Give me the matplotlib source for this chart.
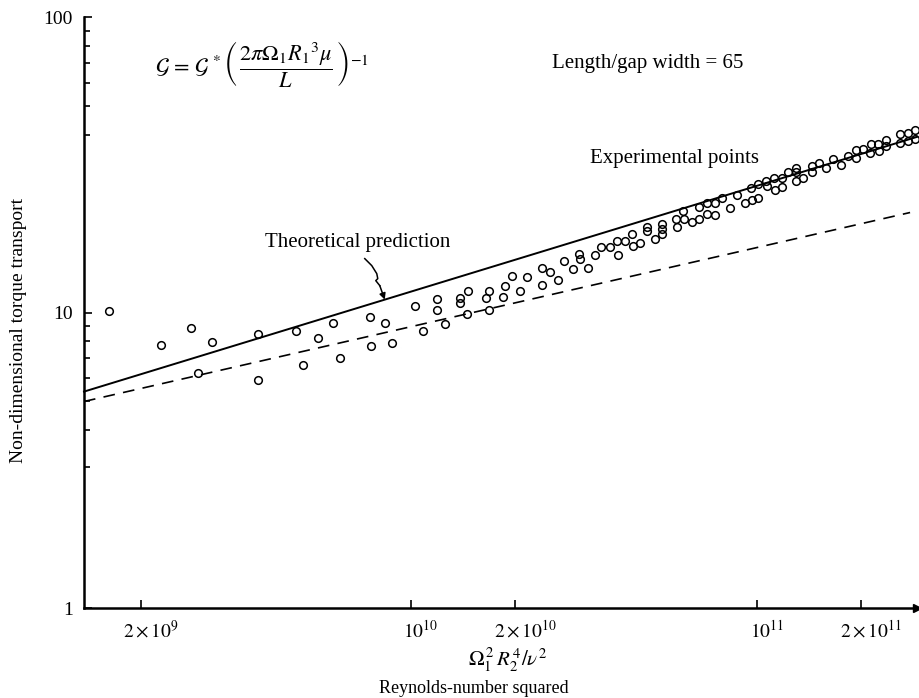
import numpy as np
import matplotlib
matplotlib.use("Agg")
import matplotlib.pyplot as plt
from matplotlib.ticker import FixedLocator, NullLocator, NullFormatter
from matplotlib.transforms import ScaledTranslation

plt.rcParams['font.family'] = ['Liberation Serif', 'DejaVu Serif']
plt.rcParams['mathtext.fontset'] = 'stix'

# experimental points (Reynolds-number squared, non-dimensional torque)
exp_x = [1.34e9, 1.89e9, 2.31e9, 2.66e9, 2.42e9, 3.61e9, 3.61e9, 4.65e9, 4.87e9, 5.39e9,
         5.95e9, 6.23e9, 7.61e9, 7.66e9, 8.41e9, 8.81e9, 1.03e10, 1.08e10, 1.19e10, 1.19e10,
         1.25e10, 1.39e10, 1.39e10, 1.46e10, 1.45e10, 1.65e10, 1.68e10, 1.68e10, 1.85e10, 1.87e10,
         1.96e10, 2.07e10, 2.16e10, 2.39e10, 2.39e10, 2.52e10, 2.66e10, 2.77e10, 2.94e10, 3.06e10,
         3.08e10, 3.25e10, 3.40e10, 3.54e10, 3.76e10, 3.94e10, 3.97e10, 4.15e10, 4.35e10, 4.38e10,
         4.59e10, 4.81e10, 4.81e10, 5.07e10, 5.31e10, 5.31e10, 5.31e10, 5.83e10, 5.87e10, 6.11e10,
         6.15e10, 6.49e10, 6.80e10, 6.80e10, 7.17e10, 7.17e10, 7.56e10, 7.56e10, 7.92e10, 8.36e10,
         8.75e10, 9.23e10, 9.61e10, 9.68e10, 1.01e11, 1.01e11, 1.06e11, 1.07e11, 1.12e11, 1.13e11,
         1.18e11, 1.18e11, 1.23e11, 1.30e11, 1.30e11, 1.30e11, 1.36e11, 1.44e11, 1.44e11, 1.51e11,
         1.58e11, 1.66e11, 1.75e11, 1.83e11, 1.93e11, 1.93e11, 2.02e11, 2.12e11, 2.13e11, 2.24e11,
         2.25e11, 2.36e11, 2.36e11, 2.59e11, 2.59e11, 2.73e11, 2.73e11, 2.86e11, 2.86e11]
exp_y = [10.1, 7.74, 8.83, 7.92, 6.22, 8.43, 5.89, 8.63, 6.67, 8.23,
         9.25, 6.99, 9.69, 7.68, 9.25, 7.86, 10.5, 8.69, 11.1, 10.2,
         9.11, 11.2, 10.8, 11.8, 9.85, 11.2, 11.8, 10.2, 11.3, 12.3,
         13.3, 11.8, 13.2, 14.2, 12.4, 13.7, 12.9, 14.9, 14.0, 15.8,
         15.2, 14.2, 15.7, 16.7, 16.7, 17.5, 15.6, 17.5, 18.5, 16.8,
         17.2, 19.5, 18.9, 17.8, 20.0, 19.2, 18.5, 20.8, 19.5, 22.1,
         20.8, 20.3, 20.8, 22.8, 21.6, 23.4, 23.5, 21.3, 24.5, 22.5,
         25.0, 23.5, 26.4, 24.1, 24.5, 27.3, 27.9, 26.9, 28.6, 26.0,
         26.6, 28.6, 29.9, 30.9, 29.9, 27.9, 28.6, 31.4, 29.9, 32.1,
         30.9, 33.1, 31.6, 33.9, 35.5, 33.4, 35.8, 34.7, 37.2, 37.2,
         35.3, 38.4, 36.7, 40.2, 37.5, 40.6, 38.1, 41.5, 38.7]

# theoretical prediction (solid) and lower dashed curve, read at their ends
theory_x = [1.135e9, 2.90e11]
theory_y = [5.4, 39.3]
dashed_x = [1.135e9, 2.77e11]
dashed_y = [5.0, 21.8]

xtick_vals = [1.66e9, 1e10, 2e10, 1e11, 2e11]
xtick_labels = [r'$2\times10^{9}$', r'$10^{10}$', r'$2\times10^{10}$', r'$10^{11}$', r'$2\times10^{11}$']
ytick_vals = [1, 10, 100]
ytick_labels = ['1', '10', '100']
yminor_vals = [3, 4, 5, 6, 7, 8, 9, 40, 50, 60, 70, 80, 90]

fig = plt.figure(figsize=(9.2, 6.98), dpi=100)
ax = fig.add_axes([0.0913, 0.1289, 0.9054, 0.8467])
ax.set_xscale('log')
ax.set_yscale('log')
ax.set_xlim(1.135e9, 2.90e11)
ax.set_ylim(1, 100)

ax.plot(theory_x, theory_y, color='black', lw=1.4, clip_on=False)
ax.plot(dashed_x, dashed_y, color='black', lw=1.2, linestyle=(0, (7, 5)), clip_on=False)
ax.plot(exp_x, exp_y, linestyle='none', marker='o', ms=5.5, mfc='none', mec='black',
        mew=1.1, clip_on=False)

for s in ['top', 'right']:
    ax.spines[s].set_visible(False)
for s in ['left', 'bottom']:
    ax.spines[s].set_linewidth(1.8)
ax.plot(1.0, 0.0, marker='>', ms=6, color='black', transform=ax.transAxes, clip_on=False)

ax.xaxis.set_major_locator(FixedLocator(xtick_vals))
ax.set_xticklabels(xtick_labels)
ax.xaxis.set_minor_locator(NullLocator())
ax.yaxis.set_major_locator(FixedLocator(ytick_vals))
ax.set_yticklabels(ytick_labels)
ax.yaxis.set_minor_locator(FixedLocator(yminor_vals))
ax.yaxis.set_minor_formatter(NullFormatter())
ax.tick_params(which='major', direction='in', length=6, width=1.2, labelsize=14, pad=8)
ax.tick_params(which='minor', direction='in', length=4, width=1.2)
shift = ScaledTranslation(0.10, 0, fig.dpi_scale_trans)
for lab in ax.get_xticklabels():
    lab.set_transform(lab.get_transform() + shift)

ax.set_ylabel('Non-dimensional torque transport', fontsize=14)
ax.yaxis.set_label_coords(-0.068, 0.47)
ax.text(0.508, -0.088, r'$\mathit{\Omega}_1^{\,2}\,R_2^{\,4}/\nu^2$', transform=ax.transAxes,
        ha='center', va='center', fontsize=15)
ax.text(0.468, -0.137, 'Reynolds-number squared', transform=ax.transAxes,
        ha='center', va='center', fontsize=13)

ax.text(0.2137, 0.9205,
        r'$\mathcal{G}\,=\,\mathcal{G}^{\,*}\left(\,\dfrac{2\pi\mathit{\Omega}_1 R_1{}^3\mu}{L}\,\right)^{-1}$',
        transform=ax.transAxes, ha='center', va='center', fontsize=16)
ax.text(0.677, 0.922, 'Length/gap width = 65', transform=ax.transAxes,
        ha='center', va='center', fontsize=15)
ax.text(0.7095, 0.761, 'Experimental points', transform=ax.transAxes,
        ha='center', va='center', fontsize=15)
ax.text(0.329, 0.619, 'Theoretical prediction', transform=ax.transAxes,
        ha='center', va='center', fontsize=15)

# squiggly pointer from the label down to the solid line
tip_x = 8.4e9
tip_y = 10 ** np.interp(np.log10(tip_x), np.log10(theory_x), np.log10(theory_y))
tip = fig.dpi_scale_trans + ScaledTranslation(tip_x, tip_y, ax.transData)
sq_dx = [-0.20, -0.13, -0.08, -0.07, -0.09, -0.05]
sq_dy = [0.41, 0.34, 0.26, 0.21, 0.19, 0.14]
ax.plot(sq_dx, sq_dy, color='black', lw=1.1, transform=tip, clip_on=False)
ax.annotate('', xy=(tip_x, tip_y), xycoords='data',
            xytext=(-0.05 * 72, 0.14 * 72), textcoords='offset points',
            arrowprops=dict(arrowstyle='-|>', color='black', lw=1.1,
                            shrinkA=0, shrinkB=0, mutation_scale=9))

fig.savefig('out.png', dpi=100)
